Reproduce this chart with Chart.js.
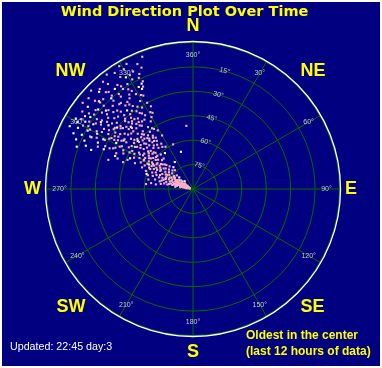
<!DOCTYPE html>
<html><head><meta charset="utf-8">
<script src="https://cdn.jsdelivr.net/npm/chart.js@4.4.1/dist/chart.umd.min.js"></script>
<style>
html,body{margin:0;padding:0;background:#fff;width:382px;height:368px;overflow:hidden;position:relative}
#frame{position:absolute;left:2px;top:2px;width:378px;height:364px;background:#000080}
#c{position:absolute;left:22px;top:15px}
.t{position:absolute;white-space:nowrap}
#title{left:0;width:369px;top:3px;text-align:center;font:bold 14.5px/17px "DejaVu Sans",sans-serif;color:#ffff00}
#upd{left:10px;top:340px;font:10.7px/12px "Liberation Sans",sans-serif;color:#fff}
#note{left:246px;top:327px;font:bold 12px/16px "Liberation Sans",sans-serif;color:#ffff00}
</style></head>
<body>
<div id="frame"></div>
<canvas id="c" width="339" height="349"></canvas>
<div class="t" id="title">Wind Direction Plot Over Time</div>
<div class="t" id="upd">Updated: 22:45 day:3</div>
<div class="t" id="note">Oldest in the center<br>(last 12 hours of data)</div>
<script>
// Compass names (every 45 deg), spoke labels (every 30 deg), ring labels
const compassNames = ['N','NE','E','SE','S','SW','W','NW'];
const spokeDirs = [0,30,60,90,120,150,180,210,240,270,300,330];
const spokeLabels = ['360°','30°','60°','90°','120°','150°','180°','210°','240°','270°','300°','330°'];
const ringValues = [15,30,45,60,75];
const ringLabels = ['15°','30°','45°','60°','75°'];

// [direction (deg), radial value (90 = centre / oldest, 0 = rim / newest)]
const pinkPoints = [
[282,86],[285,85],[288,87],[291,84],[279,84],[284,82],[287,83],[290,81],[293,82],[296,84],
[281,80],[286,79],[289,80],[292,78],[295,79],[298,80],[278,82],[283,78],[300,82],[302,85],
[297,86],[294,87],[276,86],[280,87],[305,84],[299,77],[288,77],[284,76],[277,79],[291,76],
[295,76],[286,86],[303,80],[281,83],[289,85],[293,79],[298,83],[306,81],[279,88],[283,88],
[280,85],[283,84],[286,81],[289,82],[292,80],[295,81],[287,87],[290,86],[284,80],[281,77],
[294,83],[297,78],[300,79],[288,75],[285,78],[282,75],[292,72],[296,74],[299,72],[302,77],
[285,70],[289,68],[291,66],[288,64],[287,61],
[277,67],[278,64],[276,61],[279,70],[281,72],[283,69],[280,74],[285,73],[282,62],[287,71],[284,66],
[292,74],[295,72],[298,75],[301,73],[304,76],[307,74],[310,77],[296,69],[299,67],[302,70],
[305,68],[309,71],[312,73],[294,65],[297,63],[300,64],[303,66],[306,63],[311,67],[314,70],
[290,70],[293,68],[308,65],[316,74],[301,62],[298,71],[305,72],[313,64],
[292,63],[295,61],[298,65],[301,67],[304,63],[307,69],[310,62],[313,60],[296,57],[299,61],
[302,58],[305,65],[308,61],[311,57],[316,64],[303,60],[309,66],[312,68],
[296,60],[299,58],[302,61],[305,57],[308,59],[311,60],[314,58],[317,61],[320,57],[297,54],
[300,52],[303,55],[306,53],[309,51],[312,55],[315,52],[318,54],[322,50],[325,56],[298,49],
[301,48],[304,50],[307,47],[310,48],[313,49],[316,47],[319,49],[323,53],[293,56],[294,51],
[327,59],[330,52],[336,60],[354,51],[291,59],
[301,55],[304,53],[307,56],[310,54],[313,57],[316,55],[319,52],[321,55],[324,51],[302,46],
[305,44],[308,49],[311,46],[314,50],[317,44],[320,47],[323,49],[326,45],[329,48],[303,51],
[306,58],[309,55],[312,52],[315,45],[318,48],[321,52],[324,58],[300,55],[310,43],[319,43],
[291,44],[294,46],[297,42],[300,45],[303,43],[306,46],[309,41],[312,44],[315,42],[318,45],
[321,40],[324,43],[327,46],[295,38],[298,36],[301,39],[304,37],[307,34],[310,38],[313,36],
[316,33],[319,37],[322,35],[325,38],[328,41],[331,36],[333,33],[289,35],[292,40],[305,40],
[311,33],[317,39],[320,34],[326,34],[302,33],[299,41],[314,47],[308,44],[296,33],[323,46],
[300,38],[303,35],[306,38],[309,36],[312,39],[315,37],[318,34],[321,37],[324,31],[327,36],
[330,39],[301,30],[304,32],[307,29],[310,32],[313,34],[316,30],[319,32],[322,29],[325,33],
[328,31],[332,37],[297,35],[305,34],[311,28],[317,35],[323,38],[306,31],[314,39],[320,39],
[296,30],[299,28],[302,31],[305,27],[308,29],[311,31],[314,26],[317,28],[320,30],[323,25],
[326,29],[329,27],[332,30],[298,23],[301,21],[304,24],[307,20],[310,22],[313,19],[316,23],
[319,21],[322,18],[325,22],[328,19],[331,24],[334,20],[300,17],[306,17],[312,25],[318,17],
[324,27],[309,26],[315,31],[303,28],[321,24],[327,17],[294,26],[297,19],
[302,24],[305,21],[308,23],[311,20],[314,22],[317,25],[320,21],[323,23],[326,20],[329,22],
[332,25],[335,17],[304,18],[310,17],[316,19],[322,16],[328,14],[301,15],[307,14],[313,12],
[319,11],[325,13],[331,10],[334,14],[337,9],
[303,14],[306,11],[309,13],[312,9],[315,12],[318,10],[321,7],[324,11],[327,8],[330,5],
[333,9],[336,6],[339,3],[311,5],[314,3],[317,6],[320,4],[323,2],[326,4],[329,2],
[332,3],[305,7],[308,4],[302,9],[300,12],[313,15],[319,14],[325,15],[335,12],[331,13]
];
const whitePoints = [
[296,14],[298,10],[300,8],[302,12],[294,17],[297,20],[299,16],[301,6],[304,10],[297,5],
[295,9],[303,17],[305,13],[293,12],[306,20],[300,22],[292,19],[308,8],[310,14],[313,11],
[316,7],[318,15],[322,12],[329,10],[332,19],[333,21],[334,18],[296,25],[291,23],[290,14],
[299,27],[307,25],[312,18],[294,30],[301,35],[305,38],[309,30],[320,27],[315,36],[311,45],
[318,50],[322,62],[342,66],[326,70],[318,72],[310,79],[305,82],[300,86],[296,80],[303,76],
[313,83],[290,72],[288,60],[284,79],[299,59],[296,47],[293,38]
];

const START = 15; // ring labels sit on the 15° ray
const N = 360;
const labels = Array.from({length: N}, (_, i) => {
  const d = (i + START) % 360;
  return d % 45 === 0 ? compassNames[d / 45] : '';
});
const idxOf = d => ((d - START) % 360 + 360) % 360;

function buildSets(points, color) {
  const sets = [];
  points.forEach(([d, v]) => {
    const i = idxOf(d);
    let s = sets.find(a => a[i] === null);
    if (!s) { s = new Array(N).fill(null); sets.push(s); }
    s[i] = v;
  });
  return sets.map(data => ({
    data, showLine: false, fill: false, borderWidth: 0,
    pointStyle: 'rect', pointRadius: 1.5, pointHoverRadius: 1.5,
    pointBackgroundColor: color, pointBorderWidth: 0
  }));
}

const GREEN = '#006c00';
const deco = {
  id: 'deco',
  beforeDatasetsDraw(chart) {
    const s = chart.scales.r, ctx = chart.ctx;
    ctx.save();
    ctx.beginPath();
    ctx.arc(s.xCenter, s.yCenter, s.drawingArea + 1, 0, Math.PI * 2);
    ctx.strokeStyle = '#ffffff'; ctx.lineWidth = 1.3; ctx.stroke();
    ctx.font = '7px "Liberation Sans", sans-serif';
    ctx.fillStyle = '#c8c8c8';
    ctx.textAlign = 'center'; ctx.textBaseline = 'middle';
    spokeDirs.forEach((d, k) => {
      const p = s.getPointPosition(idxOf(d), s.drawingArea - 13);
      ctx.fillText(spokeLabels[k], p.x, p.y);
    });
    ctx.restore();
  }
};

new Chart(document.getElementById('c'), {
  type: 'radar',
  data: { labels, datasets: [...buildSets(pinkPoints, '#ffb0c8'), ...buildSets(whitePoints, '#ffffff')] },
  options: {
    responsive: false, animation: false, devicePixelRatio: 1,
    layout: { padding: 0 },
    plugins: { legend: { display: false }, tooltip: { enabled: false } },
    scales: {
      r: {
        min: 0, max: 90, reverse: true, startAngle: START,
        backgroundColor: '#000000',
        grid: { circular: true, color: GREEN, lineWidth: 1 },
        angleLines: {
          display: true,
          color: GREEN,
          lineWidth: c => ((c.index + START) % 30 === 0 ? 1 : 0)
        },
        ticks: {
          stepSize: 15, showLabelBackdrop: false, color: '#c8c8c8',
          font: { size: 7, family: '"Liberation Sans", sans-serif' },
          callback: v => { const k = ringValues.indexOf(v); return k >= 0 ? ringLabels[k] : ''; }
        },
        pointLabels: {
          display: true, padding: 0, color: '#ffff00',
          font: { size: 18, weight: 'bold', family: '"Liberation Sans", Arial, sans-serif' }
        }
      }
    }
  },
  plugins: [deco]
});
</script>
</body></html>
